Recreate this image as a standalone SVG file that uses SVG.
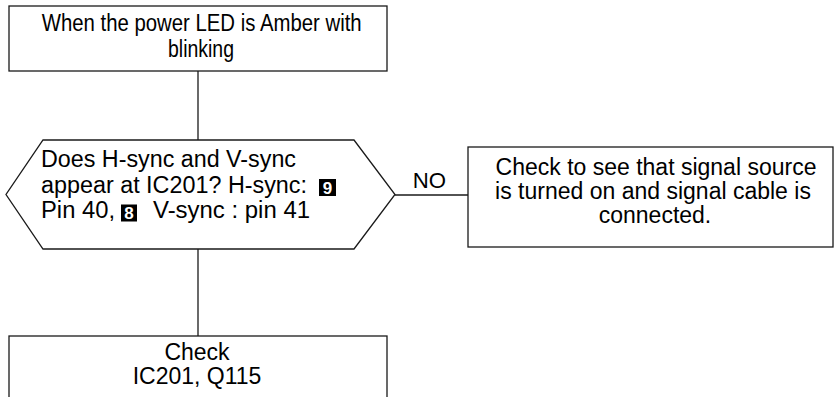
<svg xmlns="http://www.w3.org/2000/svg" width="834" height="397" viewBox="0 0 834 397">
<style>
.box{fill:#fff;stroke:#1a1a1a;stroke-width:1.3}
.ln{fill:none;stroke:#1a1a1a;stroke-width:1.3}
text{font-family:"Liberation Sans",Arial,sans-serif;font-size:23px;fill:#000}
.c{text-anchor:middle}
.tag{fill:#000}
.tagt{fill:#fff;font-size:17px;font-weight:bold;text-anchor:middle}
</style>
<rect width="834" height="397" fill="#fff"/>
<g id="connectors">
<line class="ln" x1="198" y1="71" x2="198" y2="140"/>
<line class="ln" x1="198" y1="249" x2="198" y2="336"/>
<line class="ln" x1="395" y1="195" x2="468" y2="195"/>
<text x="412.7" y="188" textLength="33.3" lengthAdjust="spacingAndGlyphs" style="font-size:22px">NO</text>
</g>
<g id="start">
<rect class="box" x="9" y="6" width="378" height="65"/>
<text x="41.7" y="31" textLength="320" lengthAdjust="spacingAndGlyphs">When the power LED is Amber with</text>
<text x="168" y="57" textLength="66" lengthAdjust="spacingAndGlyphs">blinking</text>
</g>
<g id="decision">
<polygon class="box" points="43,140 354,140 395,194.5 354,249 43,249 6,194.5"/>
<text x="41" y="167" textLength="255" lengthAdjust="spacingAndGlyphs">Does H-sync and V-sync</text>
<text x="41" y="192.5" textLength="266" lengthAdjust="spacingAndGlyphs">appear at IC201? H-sync:</text>
<rect class="tag" x="319" y="179" width="17" height="17"/>
<text class="tagt" x="327.5" y="193.5">9</text>
<text x="41" y="218" textLength="74" lengthAdjust="spacingAndGlyphs">Pin 40,</text>
<rect class="tag" x="121" y="204.5" width="16" height="17"/>
<text class="tagt" x="129" y="219">8</text>
<text x="153" y="218" textLength="157" lengthAdjust="spacingAndGlyphs">V-sync : pin 41</text>
</g>
<g id="check-source">
<rect class="box" x="468" y="147" width="365" height="100"/>
<text class="c" x="656" y="175">Check to see that signal source</text>
<text class="c" x="653" y="199">is turned on and signal cable is</text>
<text class="c" x="655" y="223">connected.</text>
</g>
<g id="check-ic">
<rect class="box" x="9" y="336" width="378" height="70"/>
<text class="c" x="197" y="360">Check</text>
<text class="c" x="197" y="384">IC201, Q115</text>
</g>
</svg>
